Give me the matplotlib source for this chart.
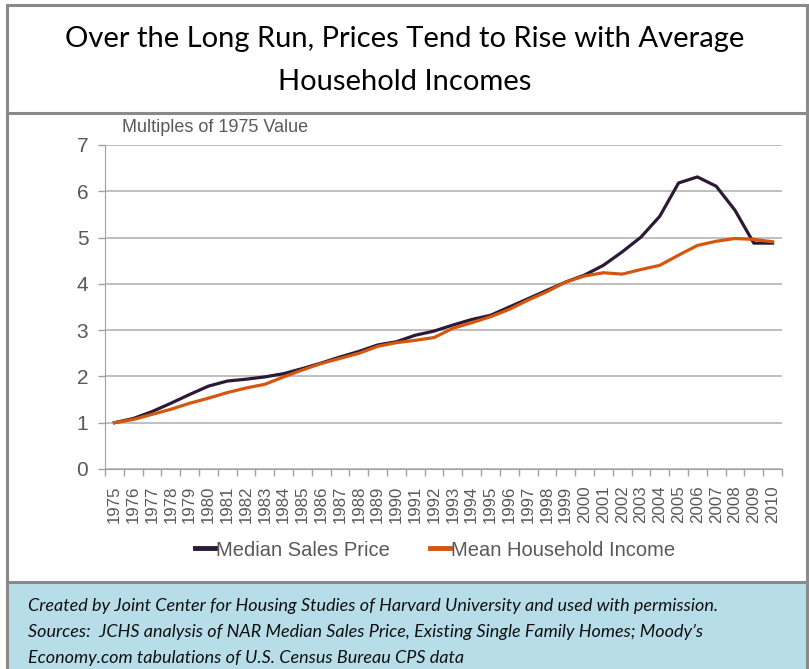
import matplotlib
matplotlib.use("Agg")
import matplotlib.pyplot as plt
from matplotlib.patches import Rectangle
from matplotlib.lines import Line2D

years = [str(y) for y in range(1975, 2011)]

median_price = [1.00, 1.09, 1.24, 1.42, 1.61, 1.79, 1.90, 1.94, 1.99, 2.06,
                2.17, 2.29, 2.42, 2.54, 2.68, 2.75, 2.89, 2.98, 3.11, 3.23,
                3.32, 3.50, 3.68, 3.86, 4.04, 4.19, 4.40, 4.69, 5.01, 5.46,
                6.18, 6.31, 6.11, 5.59, 4.88, 4.88]

mean_income = [1.00, 1.07, 1.18, 1.29, 1.42, 1.53, 1.65, 1.75, 1.83, 1.99,
               2.14, 2.28, 2.39, 2.50, 2.65, 2.73, 2.78, 2.84, 3.04, 3.16,
               3.29, 3.45, 3.65, 3.83, 4.04, 4.17, 4.24, 4.21, 4.31, 4.40,
               4.62, 4.83, 4.92, 4.98, 4.96, 4.91]

title_lines = ["Over the Long Run, Prices Tend to Rise with Average",
               "Household Incomes"]
footer_lines = ["Created by Joint Center for Housing Studies of Harvard University and used with permission.",
                "Sources:  JCHS analysis of NAR Median Sales Price, Existing Single Family Homes; Moody\u2019s",
                "Economy.com tabulations of U.S. Census Bureau CPS data"]

W, H = 809, 669
fig = plt.figure(figsize=(W / 100, H / 100), dpi=100)

def fx(px):
    return px / W

def fy(py):
    return 1 - py / H

grey_txt = "#595959"
border = "#8a8a8a"

# footer background
fig.patches.append(Rectangle((fx(7), 0), fx(807) - fx(7), fy(582), transform=fig.transFigure,
                             facecolor="#b7dde8", edgecolor="none", zorder=0))
# borders
for (x0, y0, x1, y1) in [(7, 5, 807, 5), (7, 5, 7, 669), (807, 5, 807, 669),
                         (7, 113, 807, 113), (7, 582, 807, 582)]:
    fig.add_artist(Line2D([fx(x0), fx(x1)], [fy(y0), fy(y1)], transform=fig.transFigure,
                          color=border, lw=2.2, zorder=1))

# title
fig.text(0.5, fy(39), title_lines[0], ha="center", va="center", fontsize=21,
         family="Lato", color="black")
fig.text(0.5, fy(82), title_lines[1], ha="center", va="center", fontsize=21,
         family="Lato", color="black")

# footer
for i, line in enumerate(footer_lines):
    fig.text(fx(28), fy(606 + 26 * i), line, ha="left", va="center", fontsize=13,
             family="Lato", style="italic", color="#111111")

ax = fig.add_axes([fx(105), fy(469), fx(782) - fx(105), fy(145) - fy(469)])
x = list(range(len(years)))
ax.plot(x, median_price, color="#2b1a35", lw=2.3, label="Median Sales Price", zorder=3)
ax.plot(x, mean_income, color="#d4560f", lw=2.3, label="Mean Household Income", zorder=4)

ax.set_xlim(-0.5, len(years) - 0.5)
ax.set_ylim(0, 7)
ax.set_yticks(range(0, 8))
ax.set_xticks(x)
ax.set_xticklabels(years, rotation=90, fontsize=12.2, color=grey_txt, family="Liberation Sans")
ax.set_xticks([i - 0.5 for i in range(len(years) + 1)], minor=True)
ax.tick_params(axis="x", which="major", length=0, pad=12)
ax.tick_params(axis="x", which="minor", length=5, color="#a0a0a0", width=1)
ax.tick_params(axis="y", length=5, color="#a0a0a0", width=1, labelsize=15, labelcolor=grey_txt, pad=7)
for lab in ax.get_yticklabels():
    lab.set_family("Liberation Sans")
ax.grid(axis="y", color="#b4b4b4", lw=1.2)
ax.set_axisbelow(True)
for s in ["top", "right"]:
    ax.spines[s].set_visible(False)
ax.spines["left"].set_color("#a0a0a0")
ax.spines["bottom"].set_color("#a0a0a0")

fig.text(fx(122), fy(127), "Multiples of 1975 Value", ha="left", va="center", fontsize=13,
         family="Liberation Sans", color=grey_txt)

leg = fig.legend(loc="center", bbox_to_anchor=(fx(435), fy(550)), ncol=2, frameon=False,
                 handlelength=1.0, handletextpad=0.05, columnspacing=2.0,
                 prop={"family": "Liberation Sans", "size": 14.5})
for t in leg.get_texts():
    t.set_color(grey_txt)
for h in leg.legend_handles:
    h.set_linewidth(3.5)

fig.savefig("out.png", dpi=100)
